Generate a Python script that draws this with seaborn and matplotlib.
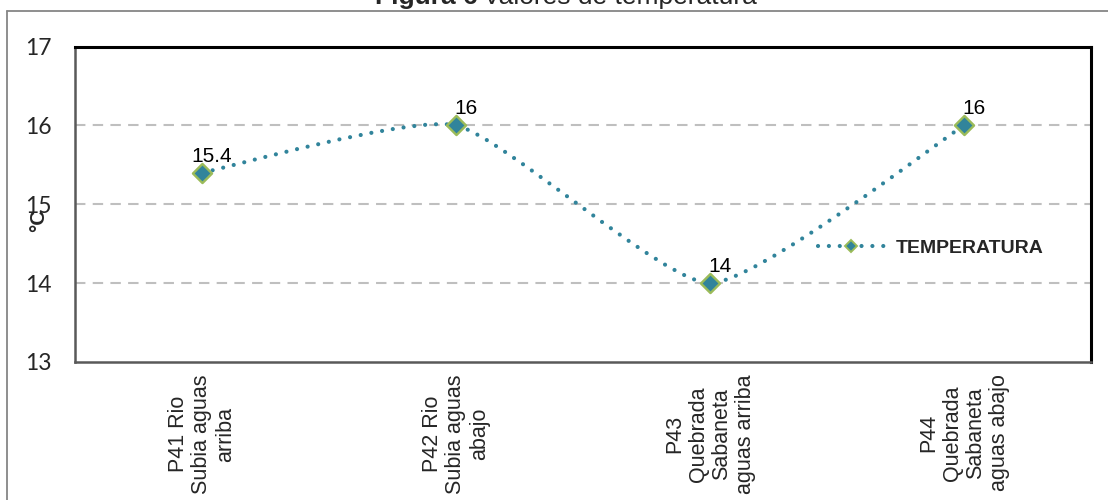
import numpy as np
import pandas as pd
import matplotlib
matplotlib.use("Agg")
import matplotlib.pyplot as plt
from matplotlib.lines import Line2D
from matplotlib.path import Path
from matplotlib.patches import PathPatch
import seaborn as sns

# Temperature readings per sampling point
estaciones = [
    "P41 Rio\nSubia aguas\narriba",
    "P42 Rio\nSubia aguas\nabajo",
    "P43\nQuebrada\nSabaneta\naguas arriba",
    "P44\nQuebrada\nSabaneta\naguas abajo",
]
temperatura = [15.4, 16, 14, 16]
etiquetas = ["15.4", "16", "14", "16"]
y_ticks = [13, 14, 15, 16, 17]

TEAL = "#31849B"
GREEN = "#9BBB59"
GRID = "#BFBFBF"
DOTS = (0, (0.01, 2.6))
SMOOTH = 1 / 11  # tangent scale for the smoothed line

sns.set_style("white")
plt.rcParams["font.family"] = ["Liberation Sans", "DejaVu Sans"]

df = pd.DataFrame({"pos": np.arange(len(estaciones)), "temp": temperatura})

fig = plt.figure(figsize=(11.08, 5.0), dpi=100)
ax = fig.add_axes([75 / 1108, 138 / 500, 1016 / 1108, 315.5 / 500])

# Smoothed connecting line (cubic Bezier segments through the data points)
pts = df[["pos", "temp"]].to_numpy(dtype=float)
ext = np.vstack([pts[0], pts, pts[-1]])
verts = [tuple(pts[0])]
codes = [Path.MOVETO]
for i in range(len(pts) - 1):
    p0, p1, p2, p3 = ext[i], ext[i + 1], ext[i + 2], ext[i + 3]
    c1 = p1 + (p2 - p0) * SMOOTH
    c2 = p2 - (p3 - p1) * SMOOTH
    verts += [tuple(c1), tuple(c2), tuple(p2)]
    codes += [Path.CURVE4] * 3
curve = PathPatch(Path(verts, codes), facecolor="none", edgecolor=TEAL,
                  linewidth=3.0, linestyle=DOTS, capstyle="round", zorder=3)
ax.add_patch(curve)

# Diamond markers at each station
sns.scatterplot(data=df, x="pos", y="temp", marker="D", s=95, color=TEAL,
                edgecolor=GREEN, linewidth=1.7, zorder=4, ax=ax, legend=False)

# Value labels
for x, y, t in zip(df["pos"], df["temp"], etiquetas):
    ax.annotate(t, (x, y), xytext=(7, 5), textcoords="offset points",
                ha="center", va="bottom", fontsize=15, color="black", zorder=5)

ax.set_xlim(-0.5, len(estaciones) - 0.5)
ax.set_ylim(y_ticks[0], y_ticks[-1])
ax.set_yticks(y_ticks)
ax.set_yticklabels([str(v) for v in y_ticks], fontfamily="Lato", fontsize=16.5)
ax.set_xticks(df["pos"])
ax.set_xticklabels(estaciones, rotation=90, ha="center", va="top",
                   multialignment="center", fontsize=15.5, linespacing=1.15)
ax.tick_params(axis="y", length=0, pad=17)
ax.tick_params(axis="x", length=0, pad=9)
ax.set_xlabel("")
ax.set_ylabel("°C", fontsize=15, fontweight="bold", rotation=90)
ax.yaxis.set_label_coords(-0.026, 0.45)

# Dashed horizontal gridlines
for g in y_ticks[1:-1]:
    ax.axhline(g, color=GRID, linewidth=1.5, linestyle=(0, (5, 3.5)), zorder=1)

for side in ["top", "right"]:
    ax.spines[side].set_color("black")
    ax.spines[side].set_linewidth(2.2)
for side in ["left", "bottom"]:
    ax.spines[side].set_color("#595959")
    ax.spines[side].set_linewidth(1.8)

# Legend
handle = Line2D([], [], color=TEAL, linewidth=3.0, linestyle=DOTS,
                dash_capstyle="round", marker="D", markersize=6,
                markerfacecolor=TEAL, markeredgecolor=GREEN, markeredgewidth=1.4)
ax.legend([handle], ["TEMPERATURA"], loc="center left",
          bbox_to_anchor=(0.731, 0.361), frameon=False, borderpad=0,
          borderaxespad=0, handlelength=3.4, handletextpad=0.6,
          prop={"weight": "bold", "size": 14})

# Outer chart frame
fig.add_artist(Line2D([7 / 1108, 7 / 1108], [0, 1 - 11 / 500],
                      transform=fig.transFigure, color="#868686", linewidth=1.3))
fig.add_artist(Line2D([7 / 1108, 1], [1 - 11 / 500, 1 - 11 / 500],
                      transform=fig.transFigure, color="#868686", linewidth=1.3))

# Figure caption
fig.text(478 / 1108, 1 - 4 / 500, "Figura 6", ha="right", va="baseline",
         fontsize=19, fontweight="bold")
fig.text(483 / 1108, 1 - 4 / 500, "Valores de temperatura", ha="left",
         va="baseline", fontsize=19)

fig.savefig("out.png", dpi=100)
